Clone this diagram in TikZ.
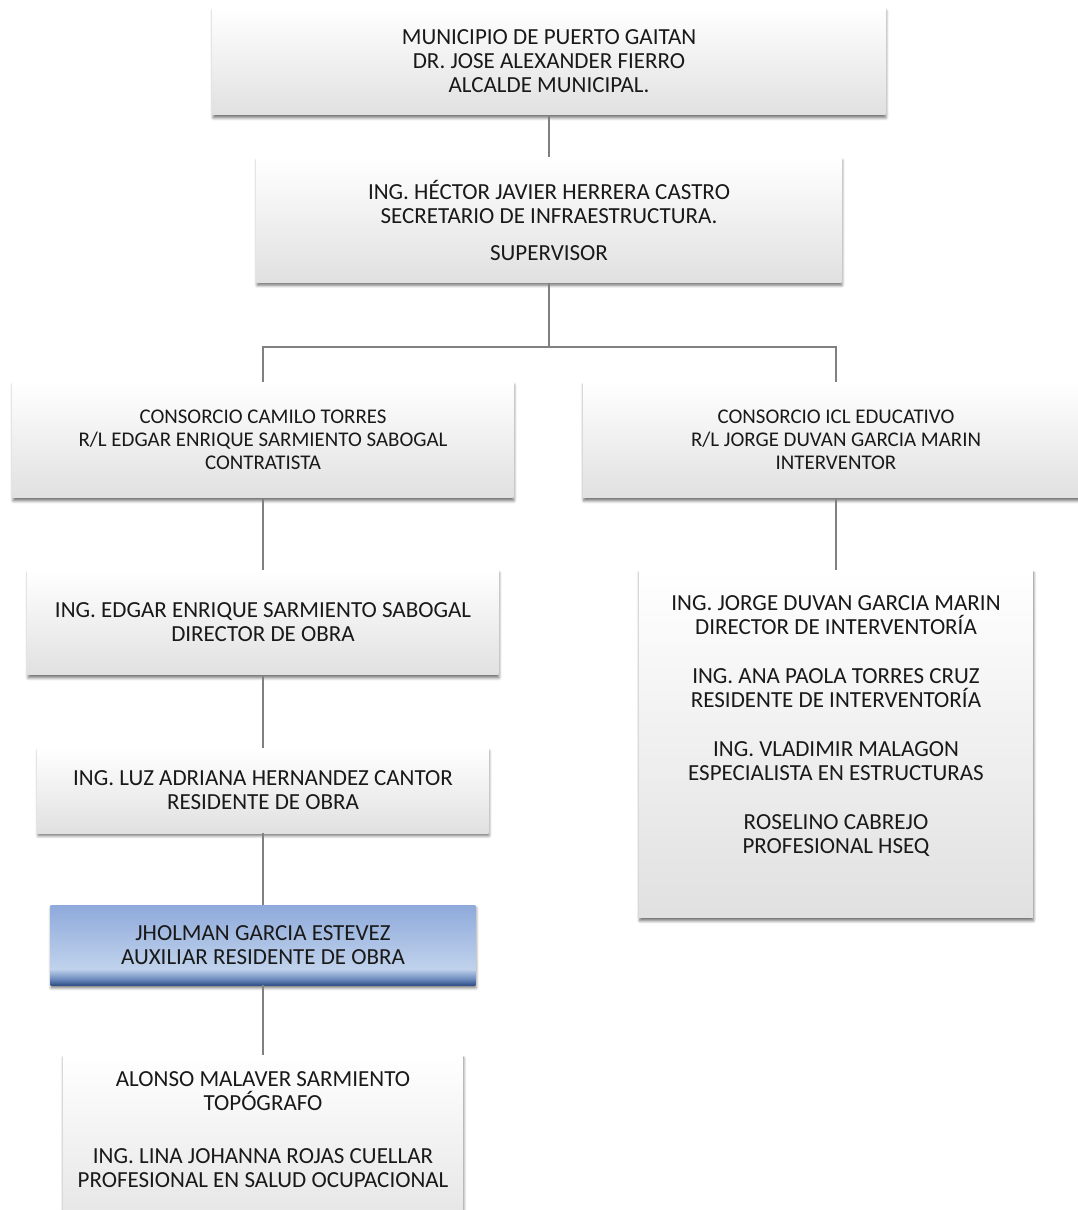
\documentclass[tikz,border=0pt]{standalone}
\usepackage{fontspec}
\setmainfont{Carlito}
\usetikzlibrary{shadows.blur}

\definecolor{auxdark}{RGB}{52,82,138}
\definecolor{auxmid}{RGB}{112,142,192}
\definecolor{auxlight}{RGB}{192,210,236}
\definecolor{auxtop}{RGB}{142,170,219}
\pgfdeclareverticalshading{auxshade}{100bp}{color(0bp)=(auxdark); color(25bp)=(auxdark);
  color(29bp)=(auxmid); color(35bp)=(auxlight); color(75bp)=(auxtop); color(100bp)=(auxtop)}

\tikzset{
  boxshadow/.style={blur shadow={shadow xshift=0.3pt, shadow yshift=-1.6pt,
    shadow blur radius=1.6pt, shadow blur steps=6, shadow opacity=55}},
  orgbox/.style={boxshadow, top color=white, bottom color=black!12, inner sep=0pt,
    align=center, text=black!90, font=\fontsize{13.1}{13.66}\selectfont},
  smallbox/.style={orgbox, font=\fontsize{11.9}{13.1}\selectfont},
  auxbox/.style={orgbox, shading=auxshade},
  orgtext/.style={align=center, inner sep=0pt, text=black!90, font=\fontsize{13.1}{13.66}\selectfont},
  link/.style={draw=black!50, line width=0.6pt}
}

\begin{document}
\begin{tikzpicture}[x=0.02cm, y=-0.02cm]
    \useasboundingbox (0, 0) rectangle (1078, 1210);
    \clip (0, 0) rectangle (1078, 1210);
    % top of the chart
    \node [orgbox, minimum width=13.46cm, minimum height=2.14cm] (mun) at (549, 61.5)
      {MUNICIPIO DE PUERTO GAITAN\\DR. JOSE ALEXANDER FIERRO\\ALCALDE MUNICIPAL.};
    \node [orgbox, minimum width=11.7cm, minimum height=2.5cm] (sec) at (549, 220)
      {ING. HÉCTOR JAVIER HERRERA CASTRO\\SECRETARIO DE INFRAESTRUCTURA.\\[7.4pt]SUPERVISOR};
    \coordinate (split) at (549, 347);
    %
    % contractor and auditor
    \node [smallbox, minimum width=10.02cm, minimum height=2.32cm] (cct) at (263, 440)
      {CONSORCIO CAMILO TORRES\\R/L EDGAR ENRIQUE SARMIENTO SABOGAL\\CONTRATISTA};
    \node [smallbox, minimum width=10.12cm, minimum height=2.32cm] (icl) at (836, 440)
      {CONSORCIO ICL EDUCATIVO\\R/L JORGE DUVAN GARCIA MARIN\\INTERVENTOR};
    %
    % left column
    \node [orgbox, minimum width=9.42cm, minimum height=2.1cm] (dir) at (263, 622.5)
      {ING. EDGAR ENRIQUE SARMIENTO SABOGAL\\DIRECTOR DE OBRA};
    \node [orgbox, minimum width=9.02cm, minimum height=1.7cm] (res) at (263, 790.5)
      {ING. LUZ ADRIANA HERNANDEZ CANTOR\\RESIDENTE DE OBRA};
    \node [auxbox, minimum width=8.5cm, minimum height=1.6cm] (aux) at (263, 945)
      {JHOLMAN GARCIA ESTEVEZ\\AUXILIAR RESIDENTE DE OBRA};
    \node [orgbox, minimum width=8cm, minimum height=4cm] (alo) at (263, 1155) {};
    \node [orgtext] (alotext) at (263, 1130)
      {ALONSO MALAVER SARMIENTO\\TOPÓGRAFO\\[16.5pt]ING. LINA JOHANNA ROJAS CUELLAR\\PROFESIONAL EN SALUD OCUPACIONAL};
    %
    % right column
    \node [orgbox, minimum width=7.88cm, minimum height=6.96cm] (int) at (836, 744) {};
    \node [orgtext] (inttext) at (836, 726)
      {ING. JORGE DUVAN GARCIA MARIN\\DIRECTOR DE INTERVENTORÍA\\[14.2pt]%
       ING. ANA PAOLA TORRES CRUZ\\RESIDENTE DE INTERVENTORÍA\\[14.2pt]%
       ING. VLADIMIR MALAGON\\ESPECIALISTA EN ESTRUCTURAS\\[14.2pt]%
       ROSELINO CABREJO\\PROFESIONAL HSEQ};
    %
    % connectors
    \draw [link] (mun.south) -- (sec.north);
    \draw [link] (sec.south) -- (split);
    \draw [link] (split) -| (cct.north);
    \draw [link] (split) -| (icl.north);
    \draw [link] (cct.south) -- (dir.north);
    \draw [link] (dir.south) -- (res.north);
    \draw [link] (res.south) -- (aux.north);
    \draw [link] (aux.south) -- (alo.north);
    \draw [link] (icl.south) -- (int.north);
  \end{tikzpicture}
\end{document}
